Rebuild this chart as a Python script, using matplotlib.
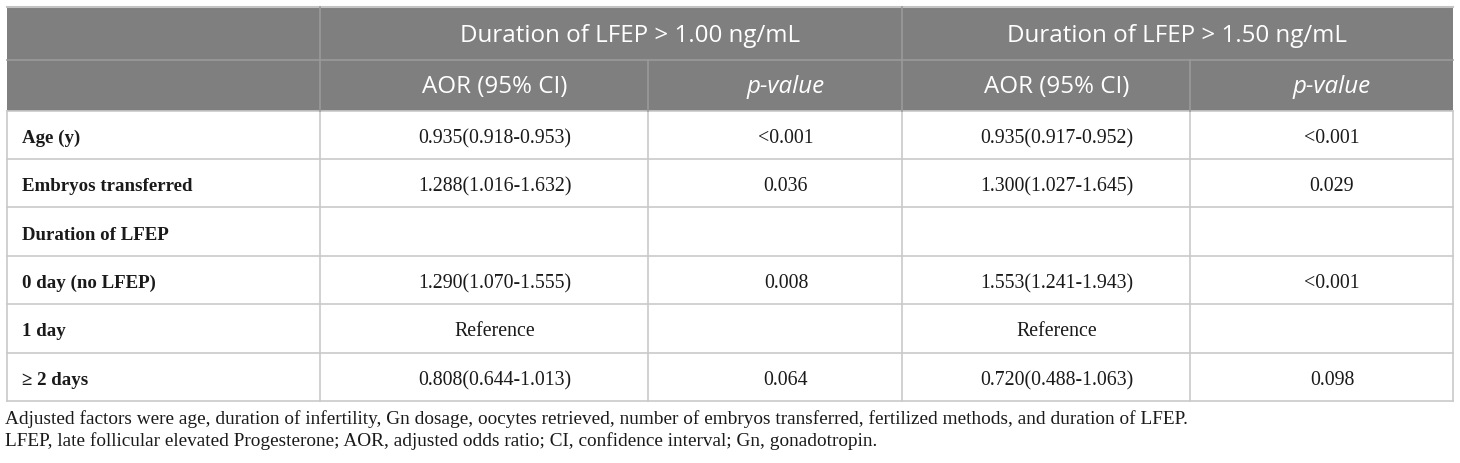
import matplotlib
matplotlib.use("Agg")
import matplotlib.pyplot as plt
from matplotlib.patches import Rectangle

# ---- data ----
group_headers = ["Duration of LFEP > 1.00 ng/mL", "Duration of LFEP > 1.50 ng/mL"]
sub_headers = ["AOR (95% CI)", "p-value", "AOR (95% CI)", "p-value"]
row_labels = ["Age (y)", "Embryos transferred", "Duration of LFEP",
              "0 day (no LFEP)", "1 day", "\u2265 2 days"]
aor_100 = ["0.935(0.918-0.953)", "1.288(1.016-1.632)", "", "1.290(1.070-1.555)",
           "Reference", "0.808(0.644-1.013)"]
p_100 = ["<0.001", "0.036", "", "0.008", "", "0.064"]
aor_150 = ["0.935(0.917-0.952)", "1.300(1.027-1.645)", "", "1.553(1.241-1.943)",
           "Reference", "0.720(0.488-1.063)"]
p_150 = ["<0.001", "0.029", "", "<0.001", "", "0.098"]
footnotes = [
    "Adjusted factors were age, duration of infertility, Gn dosage, oocytes retrieved, "
    "number of embryos transferred, fertilized methods, and duration of LFEP.",
    "LFEP, late follicular elevated Progesterone; AOR, adjusted odds ratio; "
    "CI, confidence interval; Gn, gonadotropin.",
]

# ---- layout (pixels) ----
W, H = 1460, 463
fig = plt.figure(figsize=(W / 100, H / 100), dpi=100)
ax = fig.add_axes([0, 0, 1, 1])
ax.set_xlim(0, W)
ax.set_ylim(H, 0)
ax.axis("off")

left, right = 7, 1453
col_x = [left, 320, 648, 902, 1190, right]
top, h1, h2 = 7, 60, 111
row_y = [111, 159, 207, 256, 304, 353, 401]

hdr_fill = "#7f7f7f"
hdr_line = "#9a9a9a"
grid = "#c9c9c9"

# header background
ax.add_patch(Rectangle((left, top), right - left, h2 - top, facecolor=hdr_fill,
                       edgecolor="none", zorder=1))
ax.plot([left, right], [top, top], color="#c4c4c4", lw=1.5, zorder=3)
ax.plot([left, right], [h1, h1], color=hdr_line, lw=1.2, zorder=3)
ax.plot([col_x[1], col_x[1]], [top, h2], color=hdr_line, lw=1.2, zorder=3)
ax.plot([col_x[3], col_x[3]], [top, h2], color=hdr_line, lw=1.2, zorder=3)
for x in (col_x[2], col_x[4]):
    ax.plot([x, x], [h1, h2], color=hdr_line, lw=1.2, zorder=3)

# body grid
for y in row_y:
    ax.plot([left, right], [y, y], color=grid, lw=1.2, zorder=2)
for x in col_x:
    ax.plot([x, x], [h2, row_y[-1]], color=grid, lw=1.2, zorder=2)

sans = ["Open Sans", "DejaVu Sans"]
serif = ["Liberation Serif", "DejaVu Serif"]

# header text
grp_cx = [630, 1177]
for cx, t in zip(grp_cx, group_headers):
    ax.text(cx, 42, t, ha="center", va="baseline", fontsize=17.4, color="white",
            family=sans, zorder=4)
sub_cx = [495, 786, 1057, 1332]
for cx, t in zip(sub_cx, sub_headers):
    style = "italic" if t.startswith("p-") else "normal"
    ax.text(cx, 93, t, ha="center", va="baseline", fontsize=17.4, color="white",
            family=sans, style=style, zorder=4)

# body text
cols = [aor_100, p_100, aor_150, p_150]
for i, lab in enumerate(row_labels):
    base = (row_y[i] + row_y[i + 1]) / 2 + 8
    ax.text(22, base, lab, ha="left", va="baseline", fontsize=13.6,
            fontweight="bold", family=serif, color="#1a1a1a", zorder=4)
    for cx, col in zip(sub_cx, cols):
        if col[i]:
            ax.text(cx, base, col[i], ha="center", va="baseline", fontsize=14.3,
                    family=serif, color="#1a1a1a", zorder=4)

# footnotes
for j, t in enumerate(footnotes):
    ax.text(5, 424 + j * 22, t, ha="left", va="baseline", fontsize=13.9,
            family=serif, color="#1a1a1a")

fig.savefig("out.png", dpi=100)
